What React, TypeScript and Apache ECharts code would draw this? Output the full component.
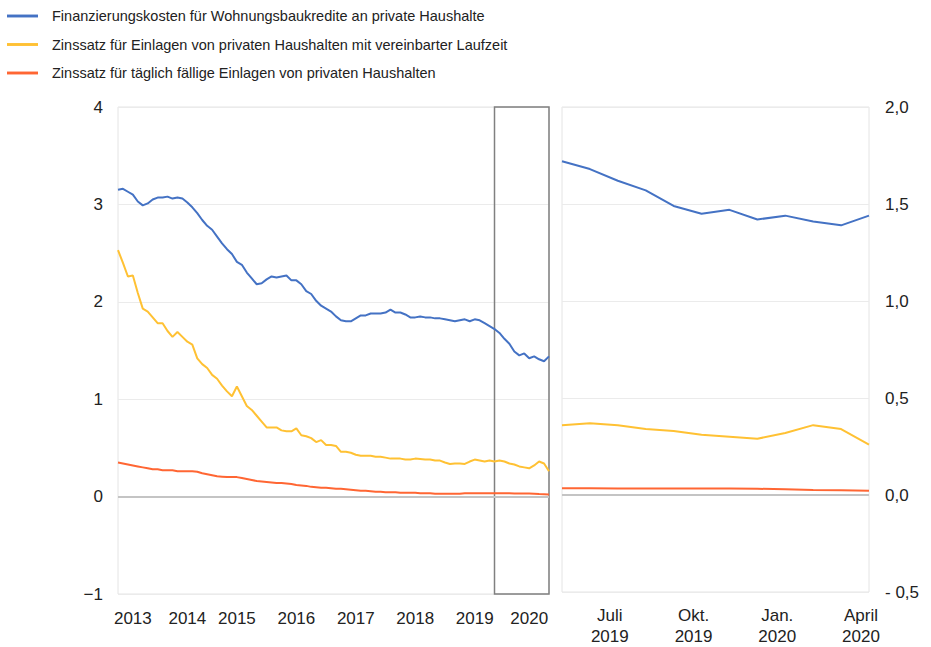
import React, { useEffect, useRef } from "react";
import * as echarts from "echarts";

// Monthly categories Jan 2013 – Apr 2020
const months: string[] = [];
for (let y = 2013; y <= 2020; y++) {
  for (let m = 1; m <= 12; m++) {
    if (y === 2020 && m > 4) break;
    months.push(`${y}-${String(m).padStart(2, "0")}`);
  }
}

const seriesNames = [
  "Finanzierungskosten für Wohnungsbaukredite an private Haushalte",
  "Zinssatz für Einlagen von privaten Haushalten mit vereinbarter Laufzeit",
  "Zinssatz für täglich fällige Einlagen von privaten Haushalten",
];

const housingLoans = [
  3.15, 3.16, 3.13, 3.10, 3.03, 2.99, 3.01, 3.05, 3.07, 3.07, 3.08, 3.06,
  3.07, 3.06, 3.02, 2.97, 2.91, 2.84, 2.78, 2.74, 2.67, 2.60, 2.54, 2.49,
  2.41, 2.38, 2.30, 2.24, 2.18, 2.19, 2.23, 2.26, 2.25, 2.26, 2.27, 2.22,
  2.22, 2.18, 2.11, 2.08, 2.01, 1.96, 1.93, 1.90, 1.85, 1.81, 1.80, 1.80,
  1.83, 1.86, 1.86, 1.88, 1.88, 1.88, 1.89, 1.92, 1.89, 1.89, 1.87, 1.84,
  1.84, 1.85, 1.84, 1.84, 1.83, 1.83, 1.82, 1.81, 1.80, 1.81, 1.82, 1.80,
  1.82, 1.81, 1.78, 1.75, 1.72, 1.68, 1.62, 1.57, 1.49, 1.45, 1.47, 1.42,
  1.44, 1.41, 1.39, 1.44,
];

const termDeposits = [
  2.53, 2.40, 2.26, 2.27, 2.09, 1.93, 1.90, 1.84, 1.78, 1.78, 1.70, 1.64,
  1.69, 1.64, 1.59, 1.56, 1.42, 1.36, 1.32, 1.25, 1.21, 1.14, 1.08, 1.03,
  1.13, 1.03, 0.93, 0.89, 0.83, 0.77, 0.71, 0.71, 0.71, 0.68, 0.67, 0.67,
  0.70, 0.63, 0.62, 0.60, 0.56, 0.58, 0.53, 0.53, 0.52, 0.46, 0.46, 0.45,
  0.43, 0.42, 0.42, 0.42, 0.41, 0.41, 0.40, 0.39, 0.39, 0.39, 0.38, 0.38,
  0.39, 0.385, 0.38, 0.38, 0.37, 0.37, 0.35, 0.335, 0.34, 0.34, 0.335, 0.36,
  0.38, 0.37, 0.36, 0.37, 0.36, 0.37, 0.36, 0.34, 0.33, 0.31, 0.30, 0.29,
  0.32, 0.36, 0.34, 0.26,
];

const overnightDeposits = [
  0.35, 0.34, 0.33, 0.32, 0.31, 0.30, 0.29, 0.28, 0.28, 0.27, 0.27, 0.27,
  0.26, 0.26, 0.26, 0.26, 0.255, 0.24, 0.23, 0.22, 0.21, 0.205, 0.20, 0.20,
  0.20, 0.19, 0.18, 0.17, 0.16, 0.155, 0.15, 0.145, 0.14, 0.14, 0.135, 0.13,
  0.12, 0.115, 0.11, 0.10, 0.095, 0.09, 0.09, 0.085, 0.08, 0.08, 0.075, 0.07,
  0.065, 0.06, 0.06, 0.055, 0.05, 0.05, 0.045, 0.045, 0.045, 0.04, 0.04, 0.04,
  0.04, 0.035, 0.035, 0.035, 0.03, 0.03, 0.03, 0.03, 0.03, 0.03, 0.035, 0.035,
  0.035, 0.035, 0.035, 0.035, 0.035, 0.035, 0.034, 0.034, 0.033, 0.033, 0.033, 0.032,
  0.03, 0.026, 0.024, 0.022,
];

// Year tick labels on the left panel (index into months)
const yearLabelIdx = [3, 14, 24, 36, 48, 60, 72, 83];
const yearLabels = ["2013", "2014", "2015", "2016", "2017", "2018", "2019", "2020"];

// Zoom panel: last 12 months
const zoomCount = 12;
const zoomLabelIdx = [2, 5, 8, 11];
const zoomLabels = ["Juli\n2019", "Okt.\n2019", "Jan.\n2020", "April\n2020"];

const colors = ["#4472c4", "#ffc133", "#ff6633"];

export default function App() {
  const ref = useRef<HTMLDivElement>(null);
  useEffect(() => {
    if (!ref.current) return;
    const chart = echarts.init(ref.current, undefined, { renderer: "svg" });
    const zoomMonths = months.slice(-zoomCount);
    const leftData = [housingLoans, termDeposits, overnightDeposits];
    const font = "Liberation Sans, Arial, sans-serif";
    const axisLabelStyle = { color: "#222", fontSize: 17, fontFamily: font };
    const zeroLine = {
      silent: true,
      symbol: "none",
      label: { show: false },
      lineStyle: { color: "#c4c4c4", width: 2, type: "solid" as const },
      data: [{ yAxis: 0 }],
    };
    const series: any[] = [];
    leftData.forEach((d, i) => {
      series.push({
        name: seriesNames[i],
        type: "line",
        xAxisIndex: 0,
        yAxisIndex: 0,
        data: d,
        showSymbol: false,
        symbol: "none",
        z: 5 - i,
        lineStyle: { color: colors[i], width: 2 },
        itemStyle: { color: colors[i] },
        markLine: i === 0 ? zeroLine : undefined,
        markArea:
          i === 0
            ? {
                silent: true,
                itemStyle: {
                  color: "rgba(0,0,0,0)",
                  borderColor: "#808080",
                  borderWidth: 1.5,
                },
                data: [[{ xAxis: zoomMonths[0] }, { xAxis: zoomMonths[zoomCount - 1] }]],
              }
            : undefined,
      });
    });
    leftData.forEach((d, i) => {
      series.push({
        name: seriesNames[i],
        type: "line",
        xAxisIndex: 1,
        yAxisIndex: 1,
        data: d.slice(-zoomCount),
        showSymbol: false,
        symbol: "none",
        z: 5 - i,
        lineStyle: { color: colors[i], width: 2 },
        itemStyle: { color: colors[i] },
        markLine: i === 0 ? zeroLine : undefined,
      });
    });

    chart.setOption({
      animation: false,
      backgroundColor: "#fff",
      legend: {
        orient: "vertical",
        left: 7,
        top: 8,
        padding: 0,
        icon: "path://M0,0H32V3H0Z",
        itemWidth: 31,
        itemHeight: 3,
        itemGap: 12.5,
        data: seriesNames,
        textStyle: {
          color: "#222",
          fontSize: 14.5,
          lineHeight: 16,
          fontFamily: font,
          padding: [0, 0, 0, 9],
        },
      },
      grid: [
        {
          left: 118,
          top: 107,
          width: 431,
          height: 487,
          show: true,
          borderColor: "#e4e4e4",
          borderWidth: 1,
        },
        {
          left: 562,
          top: 107,
          width: 307,
          height: 487,
          show: true,
          borderColor: "#e4e4e4",
          borderWidth: 1,
        },
      ],
      xAxis: [
        {
          type: "category",
          gridIndex: 0,
          data: months,
          boundaryGap: false,
          axisLine: { show: false },
          axisTick: { show: false },
          axisLabel: {
            ...axisLabelStyle,
            margin: 16,
            interval: (idx: number) => yearLabelIdx.includes(idx),
            formatter: (_v: string, idx: number) => {
              const k = yearLabelIdx.indexOf(idx);
              return k >= 0 ? yearLabels[k] : "";
            },
          },
          splitLine: { show: false },
        },
        {
          type: "category",
          gridIndex: 1,
          data: zoomMonths,
          boundaryGap: false,
          axisLine: { show: false },
          axisTick: { show: false },
          axisLabel: {
            ...axisLabelStyle,
            margin: 13,
            lineHeight: 21,
            padding: [0, 16, 0, 0],
            interval: (idx: number) => zoomLabelIdx.includes(idx),
            formatter: (_v: string, idx: number) => {
              const k = zoomLabelIdx.indexOf(idx);
              return k >= 0 ? zoomLabels[k] : "";
            },
          },
          splitLine: { show: false },
        },
      ],
      yAxis: [
        {
          type: "value",
          gridIndex: 0,
          min: -1,
          max: 4,
          interval: 1,
          axisLine: { show: false },
          axisTick: { show: false },
          axisLabel: {
            ...axisLabelStyle,
            margin: 15,
            formatter: (v: number) => (v < 0 ? "\u2212" + Math.abs(v) : String(v)),
          },
          splitLine: { lineStyle: { color: "#ebebeb", width: 1 } },
        },
        {
          type: "value",
          gridIndex: 1,
          position: "right",
          min: -0.5,
          max: 2,
          interval: 0.5,
          axisLine: { show: false },
          axisTick: { show: false },
          axisLabel: {
            ...axisLabelStyle,
            margin: 16,
            formatter: (v: number) => {
              const s = Math.abs(v).toFixed(1).replace(".", ",");
              return v < 0 ? "- " + s : s;
            },
          },
          splitLine: { lineStyle: { color: "#ebebeb", width: 1 } },
        },
      ],
      series,
    });
    return () => chart.dispose();
  }, []);
  return (
    <div
      ref={ref}
      style={{ position: "fixed", left: 0, top: 0, width: 931, height: 647 }}
    />
  );
}
